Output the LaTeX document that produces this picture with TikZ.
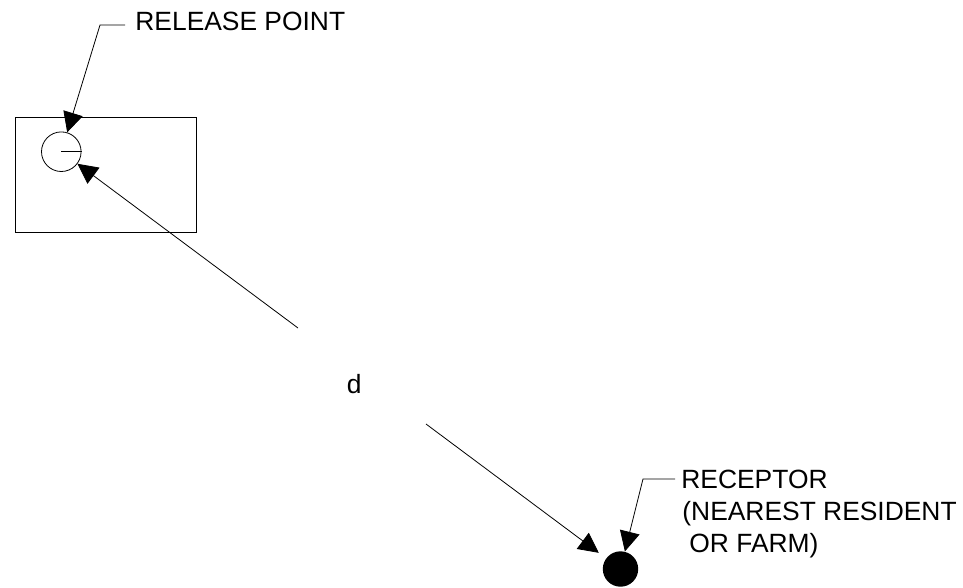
\documentclass[tikz,border=0pt]{standalone}
\usepackage{fontspec}
\setmainfont{Liberation Sans}
\usetikzlibrary{arrows.meta}
\begin{document}
\begin{tikzpicture}[x=1pt,y=-1pt,
  line width=0.8pt,
  lbl/.style={anchor=base west,inner sep=0pt,font=\fontsize{26.4}{31}\selectfont},
  bigtip/.style={-{Triangle[length=20pt,width=20pt]}},
  srcmark/.style={draw,circle,inner sep=0pt,minimum size=39.6pt},
  recmark/.style={fill=black,circle,inner sep=0pt,minimum size=35.4pt}]
\useasboundingbox (0,0) rectangle (963,587);
% building
\draw (15,117.3) rectangle (196,232);
\node[srcmark] (src) at (61.3,151.7) {};
\draw (src.center) -- (src.east);
% receptor
\node[recmark] (rec) at (620.5,569) {};
% labels
\node[lbl] (rp) at (135,30) {RELEASE POINT};
\node[lbl] (r1) at (681,488) {RECEPTOR};
\node[lbl] (r2) at (682,520) {(NEAREST RESIDENT};
\node[lbl] (r3) at (689,552) {OR FARM)};
\node[lbl] (d) at (346.5,393) {d};
% leader coordinates
\coordinate (rpA) at (125,25);
\coordinate (rpB) at (100,25);
\coordinate (rcA) at (675,479);
\coordinate (rcB) at (643,479);
\coordinate (dUp) at (298,328);
\coordinate (dDn) at (426,424);
% connectors
\draw[bigtip] (rpA) -- (rpB) -- (src);
\draw[bigtip] (rcA) -- (rcB) -- (rec);
\draw[bigtip] (dUp) -- (src);
\draw[bigtip,shorten >=9pt] (dDn) -- (rec);
\end{tikzpicture}
\end{document}
